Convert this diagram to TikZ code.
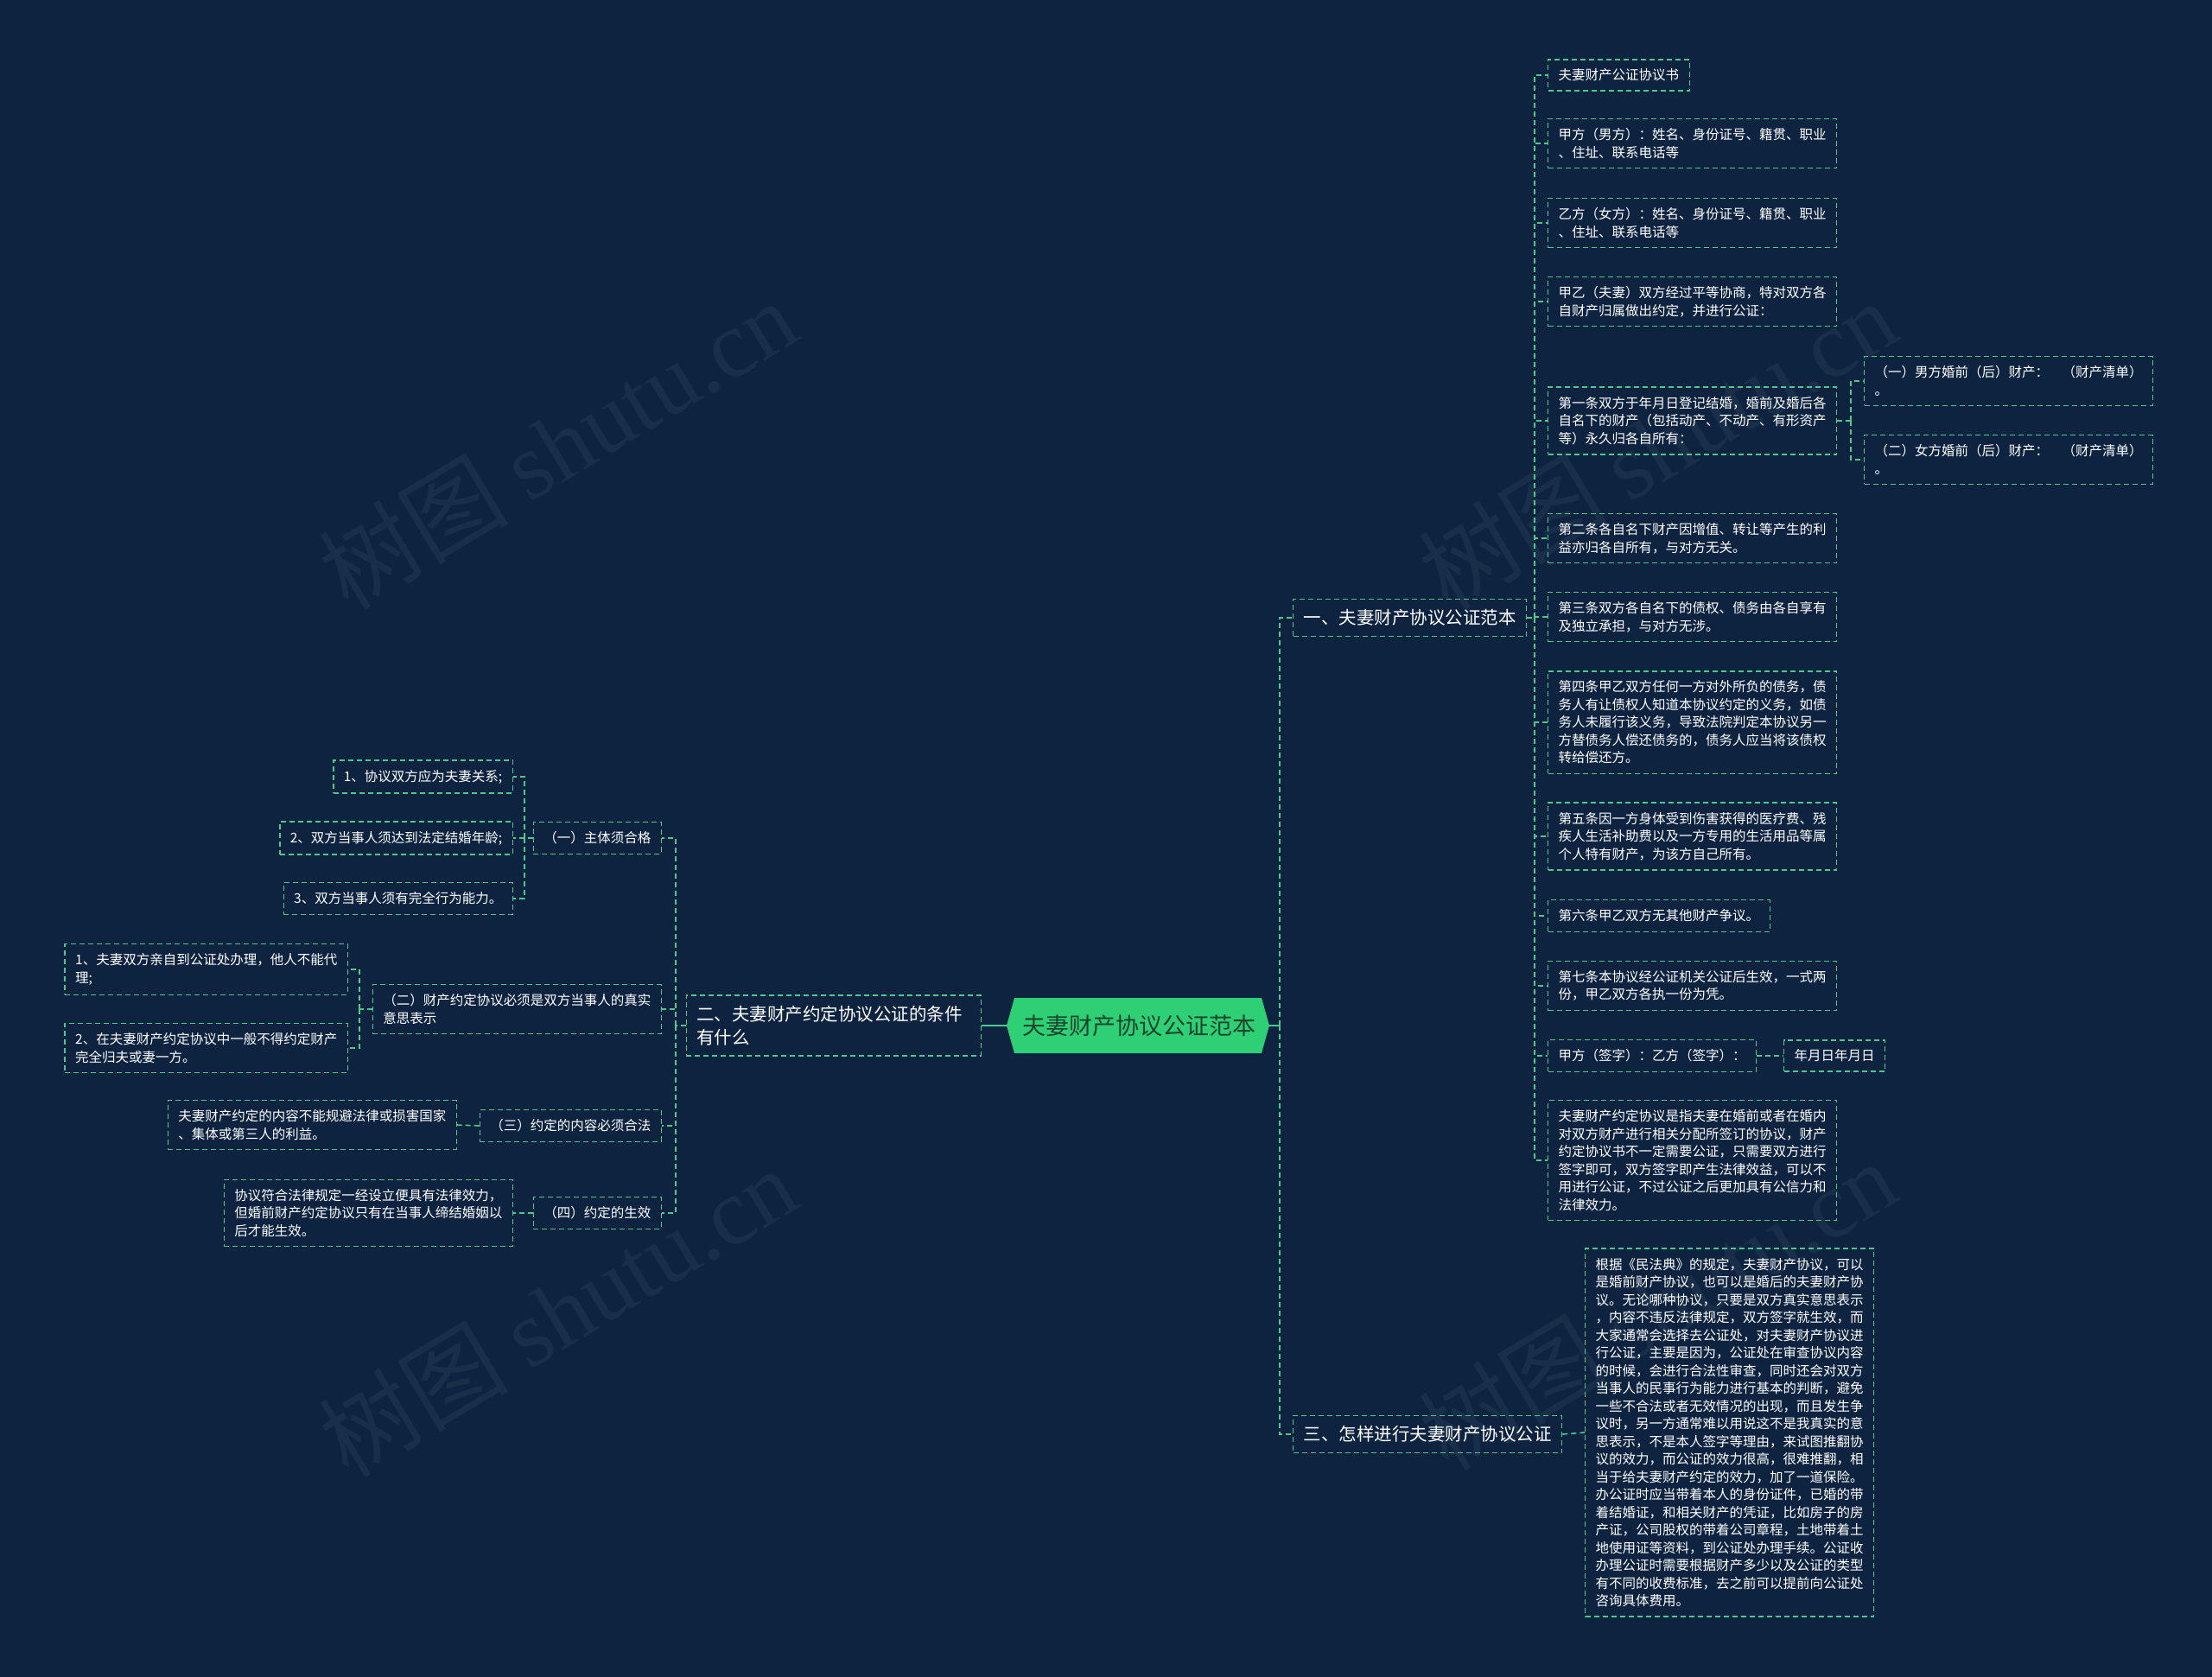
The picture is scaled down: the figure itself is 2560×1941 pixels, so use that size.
\documentclass[tikz,border=0pt]{standalone}
\usepackage{fontspec}
\newfontfamily\cjk{Noto Sans CJK SC}
\newfontfamily\wmserif{Liberation Serif}
\definecolor{bg}{HTML}{0D2340}
\definecolor{lg}{HTML}{4CC98C}
\definecolor{rootg}{HTML}{2FCF75}
\definecolor{roottext}{HTML}{1A452D}
\tikzset{
 conn/.style={draw=lg, line width=1.6pt, dash pattern=on 6pt off 4pt},
 rootconn/.style={draw=lg, line width=2.2pt},
 leaf/.style={draw=lg, line width=1.4pt, dash pattern=on 6pt off 4pt, text=white,
   font=\cjk\fontsize{15.5}{20.5}\selectfont, align=left, inner xsep=12pt, inner ysep=11pt},
 branch/.style={leaf, font=\cjk\fontsize{20.5}{27}\selectfont, inner ysep=12pt},
 wm/.style={text=white, opacity=0.05, rotate=31, font=\fontsize{110}{120}\selectfont}
}
\begin{document}
\begin{tikzpicture}[x=1pt,y=-1pt]
\useasboundingbox (0,0) rectangle (2560,1941);
\fill[bg] (0,0) rectangle (2560,1941);
% watermarks
\node[wm] (w1) at (645,514) {\cjk 树图 \wmserif shutu.cn};
\node[wm] (w2) at (1918,514) {\cjk 树图 \wmserif shutu.cn};
\node[wm] (w3) at (645,1518) {\cjk 树图 \wmserif shutu.cn};
\node[wm] (w4) at (1918,1510) {\cjk 树图 \wmserif shutu.cn};
% root
\fill[rootg] (1165,1187) -- (1174,1155) -- (1460,1155) -- (1469,1187) -- (1460,1219) -- (1174,1219) -- cycle;
\node[font=\cjk\fontsize{27}{32}\selectfont, text=roottext, minimum width=302pt, minimum height=62pt, inner sep=0pt] (root) at (1318,1187) {夫妻财产协议公证范本};
% branches
\node[branch, anchor=west] (b1) at (1496,715) {一、夫妻财产协议公证范本};
\node[branch, anchor=east, text width=317pt] (b2) at (1136,1187) {二、夫妻财产约定协议公证的条件\\有什么};
\node[branch, anchor=west] (b3) at (1496,1660) {三、怎样进行夫妻财产协议公证};
% right leaves of branch 1
\node[leaf, anchor=west] (l1) at (1791,87) {夫妻财产公证协议书};
\node[leaf, anchor=west] (l2) at (1791,166) {甲方（男方）：姓名、身份证号、籍贯、职业\\、住址、联系电话等};
\node[leaf, anchor=west] (l3) at (1791,258) {乙方（女方）：姓名、身份证号、籍贯、职业\\、住址、联系电话等};
\node[leaf, anchor=west] (l4) at (1791,349) {甲乙（夫妻）双方经过平等协商，特对双方各\\自财产归属做出约定，并进行公证：};
\node[leaf, anchor=west] (l5) at (1791,487) {第一条双方于年月日登记结婚，婚前及婚后各\\自名下的财产（包括动产、不动产、有形资产\\等）永久归各自所有：};
\node[leaf, anchor=west] (l5a) at (2157,441) {（一）男方婚前（后）财产：　（财产清单）\\。};
\node[leaf, anchor=west] (l5b) at (2157,532) {（二）女方婚前（后）财产：　（财产清单）\\。};
\node[leaf, anchor=west] (l6) at (1791,623) {第二条各自名下财产因增值、转让等产生的利\\益亦归各自所有，与对方无关。};
\node[leaf, anchor=west] (l7) at (1791,714) {第三条双方各自名下的债权、债务由各自享有\\及独立承担，与对方无涉。};
\node[leaf, anchor=west] (l8) at (1791,836) {第四条甲乙双方任何一方对外所负的债务，债\\务人有让债权人知道本协议约定的义务，如债\\务人未履行该义务，导致法院判定本协议另一\\方替债务人偿还债务的，债务人应当将该债权\\转给偿还方。};
\node[leaf, anchor=west] (l9) at (1791,968) {第五条因一方身体受到伤害获得的医疗费、残\\疾人生活补助费以及一方专用的生活用品等属\\个人特有财产，为该方自己所有。};
\node[leaf, anchor=west] (l10) at (1791,1060) {第六条甲乙双方无其他财产争议。};
\node[leaf, anchor=west] (l11) at (1791,1141) {第七条本协议经公证机关公证后生效，一式两\\份，甲乙双方各执一份为凭。};
\node[leaf, anchor=west] (l12) at (1791,1222) {甲方（签字）：乙方（签字）：};
\node[leaf, anchor=west] (l12b) at (2064,1222) {年月日年月日};
\node[leaf, anchor=west] (l13) at (1791,1343) {夫妻财产约定协议是指夫妻在婚前或者在婚内\\对双方财产进行相关分配所签订的协议，财产\\约定协议书不一定需要公证，只需要双方进行\\签字即可，双方签字即产生法律效益，可以不\\用进行公证，不过公证之后更加具有公信力和\\法律效力。};
% branch 3 child
\node[leaf, anchor=west] (b3c) at (1834,1658) {根据《民法典》的规定，夫妻财产协议，可以\\是婚前财产协议，也可以是婚后的夫妻财产协\\议。无论哪种协议，只要是双方真实意思表示\\，内容不违反法律规定，双方签字就生效，而\\大家通常会选择去公证处，对夫妻财产协议进\\行公证，主要是因为，公证处在审查协议内容\\的时候，会进行合法性审查，同时还会对双方\\当事人的民事行为能力进行基本的判断，避免\\一些不合法或者无效情况的出现，而且发生争\\议时，另一方通常难以用说这不是我真实的意\\思表示，不是本人签字等理由，来试图推翻协\\议的效力，而公证的效力很高，很难推翻，相\\当于给夫妻财产约定的效力，加了一道保险。\\办公证时应当带着本人的身份证件，已婚的带\\着结婚证，和相关财产的凭证，比如房子的房\\产证，公司股权的带着公司章程，土地带着土\\地使用证等资料，到公证处办理手续。公证收\\办理公证时需要根据财产多少以及公证的类型\\有不同的收费标准，去之前可以提前向公证处\\咨询具体费用。};
% left side
\node[leaf, anchor=east] (c1) at (766,970) {（一）主体须合格};
\node[leaf, anchor=east] (c2) at (766,1168) {（二）财产约定协议必须是双方当事人的真实\\意思表示};
\node[leaf, anchor=east] (c3) at (766,1303) {（三）约定的内容必须合法};
\node[leaf, anchor=east] (c4) at (766,1404) {（四）约定的生效};
\node[leaf, anchor=east] (c1a) at (594,899) {1、协议双方应为夫妻关系;};
\node[leaf, anchor=east] (c1b) at (594,970) {2、双方当事人须达到法定结婚年龄;};
\node[leaf, anchor=east] (c1c) at (594,1040) {3、双方当事人须有完全行为能力。};
\node[leaf, anchor=east] (c2a) at (403,1122) {1、夫妻双方亲自到公证处办理，他人不能代\\理;};
\node[leaf, anchor=east] (c2b) at (403,1213) {2、在夫妻财产约定协议中一般不得约定财产\\完全归夫或妻一方。};
\node[leaf, anchor=east] (c3a) at (529,1302) {夫妻财产约定的内容不能规避法律或损害国家\\、集体或第三人的利益。};
\node[leaf, anchor=east] (c4a) at (594,1404) {协议符合法律规定一经设立便具有法律效力，\\但婚前财产约定协议只有在当事人缔结婚姻以\\后才能生效。};
% connectors
\coordinate (rs) at (1481,1187);
\draw[rootconn] (root.east) -- (rs);
\draw[conn] (rs) |- (b1.west);
\draw[conn] (rs) |- (b3.west);
\draw[rootconn] (root.west) -- (b2.east);
\coordinate (s1) at (1776,715);
\draw[conn] (b1.east) -- (s1);
\foreach \n in {l1,l2,l3,l4,l5,l6,l7,l8,l9,l10,l11,l12,l13} \draw[conn] (s1) |- (\n.west);
\coordinate (s5) at (2142,487);
\draw[conn] (l5.east) -- (s5);
\foreach \n in {l5a,l5b} \draw[conn] (s5) |- (\n.west);
\draw[conn] (l12.east) -- (l12b.west);
\draw[conn] (b3.east) -- (b3c.west);
\coordinate (ls) at (782,1187);
\draw[conn] (b2.west) -- (ls);
\foreach \n in {c1,c2,c3,c4} \draw[conn] (ls) |- (\n.east);
\coordinate (sc1) at (607,970);
\draw[conn] (c1.west) -- (sc1);
\foreach \n in {c1a,c1b,c1c} \draw[conn] (sc1) |- (\n.east);
\coordinate (sc2) at (416,1168);
\draw[conn] (c2.west) -- (sc2);
\foreach \n in {c2a,c2b} \draw[conn] (sc2) |- (\n.east);
\draw[conn] (c3.west) -- (c3a.east);
\draw[conn] (c4.west) -- (c4a.east);
\end{tikzpicture}
\end{document}
